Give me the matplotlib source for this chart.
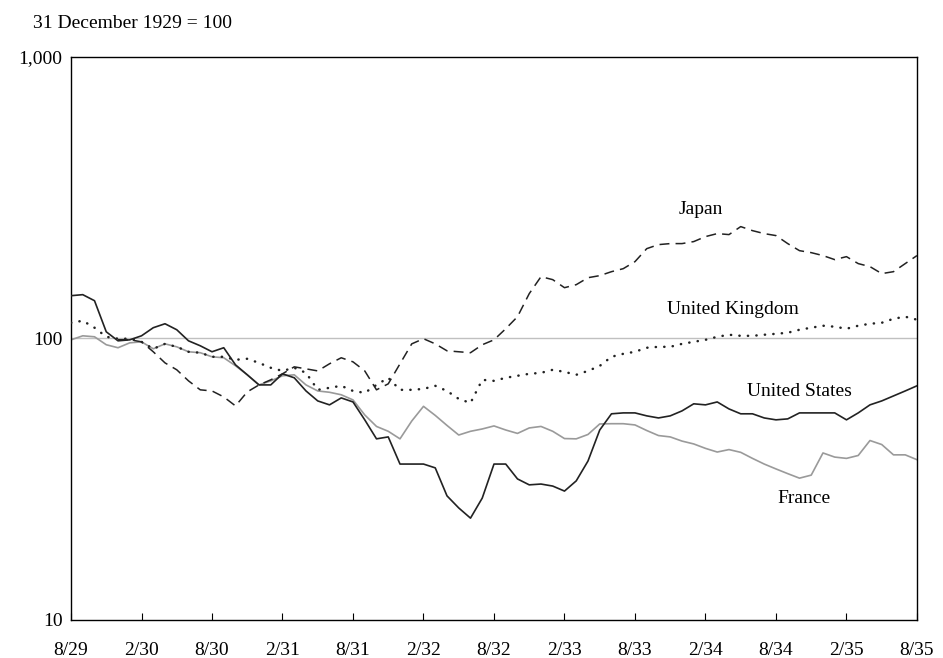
import numpy as np
import matplotlib
matplotlib.use("Agg")
import matplotlib.pyplot as plt

plt.rcParams["font.family"] = ["Liberation Serif", "DejaVu Serif"]

# monthly index values, 8/29 .. 8/35 (31 December 1929 = 100)
months = np.arange(73)
tick_labels = ["8/29", "2/30", "8/30", "2/31", "8/31", "2/32", "8/32",
               "2/33", "8/33", "2/34", "8/34", "2/35", "8/35"]

united_states = [141.9, 143.1, 136.2, 105.6, 98.1, 98.9, 102.2, 109.2, 112.8, 107.4,
                 98.1, 94.2, 89.7, 92.7, 80.6, 74.3, 68.4, 68.4, 74.9, 72.5,
                 65.1, 60.0, 58.1, 61.5, 59.5, 51.4, 44.0, 44.7, 35.8, 35.8,
                 35.8, 34.7, 27.6, 25.0, 23.0, 27.1, 35.8, 35.8, 31.7, 30.2,
                 30.4, 29.9, 28.7, 31.2, 36.7, 47.3, 54.0, 54.4, 54.4, 53.1,
                 52.2, 53.1, 55.3, 58.6, 58.1, 59.5, 56.2, 54.0, 54.0, 52.2,
                 51.4, 51.8, 54.4, 54.4, 54.4, 54.4, 51.4, 54.4, 58.1, 60.0,
                 62.5, 65.1, 67.9]

japan = [np.nan, np.nan, np.nan, np.nan, 99.0, 99.0, 97.3, 89.7, 81.9, 77.4,
         70.7, 65.7, 65.1, 62.0, 57.6, 64.6, 68.4, 71.3, 74.9, 79.3,
         78.0, 76.7, 81.3, 85.4, 82.6, 76.7, 65.7, 69.0, 81.3, 95.7,
         99.8, 95.7, 90.4, 89.7, 89.0, 95.0, 98.9, 108.3, 119.5, 144.3,
         165.8, 161.8, 151.5, 155.3, 164.4, 167.2, 172.7, 177.0, 187.5, 208.5,
         215.5, 217.3, 217.3, 220.9, 230.1, 235.8, 233.9, 249.7, 241.6, 235.8,
         232.0, 217.3, 205.1, 201.8, 197.0, 190.6, 195.3, 184.5, 180.0, 170.0,
         172.7, 184.5, 197.0]

united_kingdom = [113.7, 115.6, 109.2, 101.4, 99.8, 99.8, 97.3, 91.9, 95.7, 93.4,
                  89.7, 89.0, 86.1, 86.1, 84.0, 84.7, 81.9, 78.7, 76.7, 78.7,
                  75.5, 65.7, 66.8, 67.9, 65.1, 64.1, 68.4, 72.5, 65.7, 65.7,
                  66.2, 67.9, 65.1, 61.0, 59.0, 71.3, 70.7, 72.5, 73.7, 74.9,
                  75.5, 77.4, 76.1, 74.3, 76.7, 79.9, 86.1, 88.2, 89.7, 92.7,
                  93.4, 93.4, 95.7, 97.3, 98.9, 101.4, 103.1, 102.2, 102.2, 103.1,
                  103.9, 104.8, 107.4, 109.2, 111.0, 110.1, 108.3, 111.0, 112.8, 113.7,
                  117.5, 119.5, 116.6]

france = [98.9, 102.2, 101.4, 95.0, 92.7, 96.5, 97.3, 91.9, 95.7, 93.4,
          89.7, 89.0, 86.1, 85.4, 80.0, 74.3, 68.4, 70.7, 73.7, 74.3,
          68.4, 65.1, 64.4, 63.1, 60.5, 53.5, 48.7, 46.8, 44.0, 50.9,
          57.4, 53.3, 49.1, 45.4, 46.8, 47.7, 48.9, 47.3, 46.0, 48.1,
          48.7, 46.8, 44.1, 44.0, 45.6, 49.7, 49.8, 49.8, 49.3, 47.1,
          45.2, 44.7, 43.2, 42.2, 40.7, 39.5, 40.3, 39.4, 37.5, 35.8,
          34.4, 33.1, 31.9, 32.7, 39.2, 37.9, 37.5, 38.4, 43.4, 42.0,
          38.6, 38.6, 37.1]

fig = plt.figure(figsize=(9.43, 6.58), dpi=100)
ax = fig.add_axes([0.0753, 0.0578, 0.8971, 0.8556])

ax.axhline(100, color="#c0c0c0", lw=1.0, zorder=1)

ax.plot(months, france, color="#9a9a9a", lw=1.2, zorder=2)
ax.plot(months, japan, color="#222222", lw=1.1, dashes=(6.5, 4), zorder=3)
ax.plot(months, united_kingdom, color="#222222", lw=1.8, dashes=(0.1, 3.3),
        dash_capstyle="round", zorder=3)
ax.plot(months, united_states, color="#222222", lw=1.2, zorder=4)

ax.set_yscale("log")
ax.set_ylim(10, 1000)
ax.set_xlim(0, 72)
ax.set_yticks([10, 100, 1000])
ax.set_yticklabels(["10", "100", "1,000"])
ax.yaxis.set_minor_locator(matplotlib.ticker.NullLocator())
ax.set_xticks(months[::6])
ax.set_xticklabels(tick_labels)
ax.tick_params(axis="x", direction="in", length=5, width=0.8, pad=16,
               labelsize=14)
ax.tick_params(axis="y", length=0, pad=6, labelsize=14)
for s in ax.spines.values():
    s.set_linewidth(1.0)
    s.set_color("black")

fig.text(0.035, 0.965, "31 December 1929 = 100", fontsize=14, va="center")

ax.text(53.6, 287, "Japan", fontsize=14, ha="center", va="center")
ax.text(56.3, 126.5, "United Kingdom", fontsize=14, ha="center", va="center")
ax.text(62.0, 64.6, "United States", fontsize=14, ha="center", va="center")
ax.text(62.4, 27.1, "France", fontsize=14, ha="center", va="center")

fig.savefig("out.png", dpi=100)
